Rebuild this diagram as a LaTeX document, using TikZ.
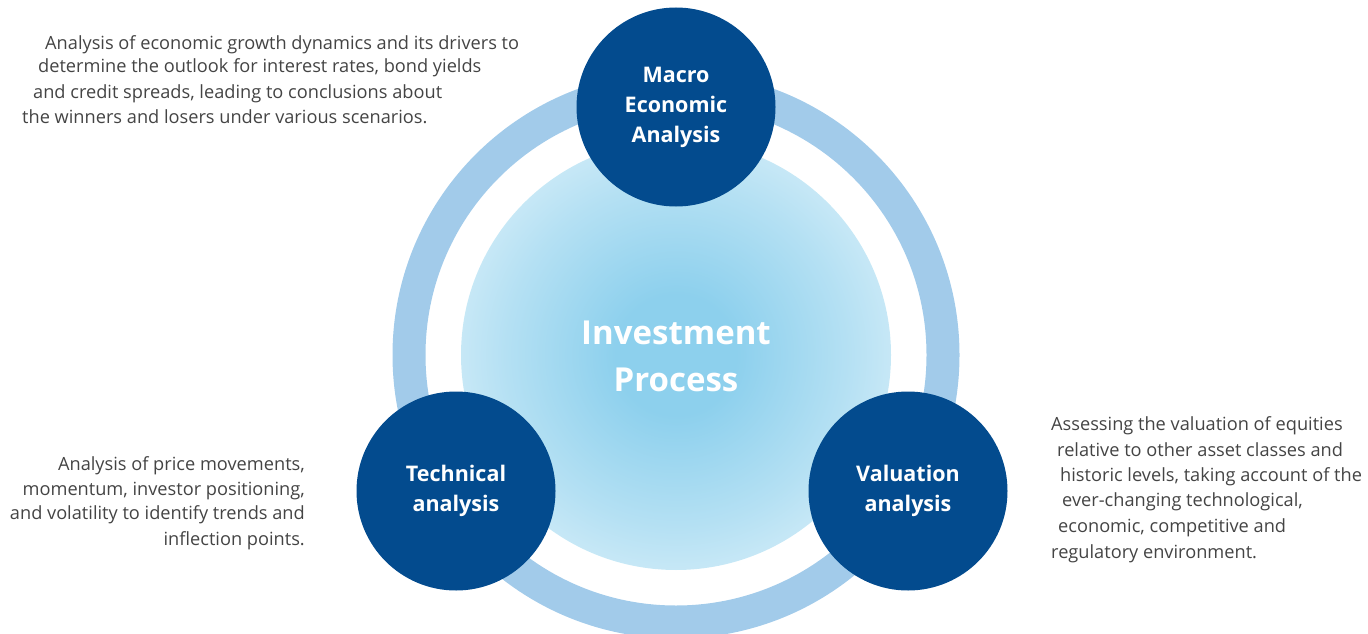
\documentclass[tikz,border=0pt]{standalone}
\usepackage{fontspec}
\setmainfont{Open Sans}
\definecolor{navy}{HTML}{034B8E}
\definecolor{ringblue}{HTML}{A2CBEA}
\definecolor{glowblue}{HTML}{8DD0ED}
\definecolor{bodygray}{HTML}{444444}
% soft glow behind the centre title
\pgfdeclareradialshading{glow}{\pgfpoint{0bp}{0bp}}{%
  color(0bp)=(glowblue);
  color(7bp)=(glowblue);
  color(20bp)=(glowblue!65!white);
  color(32bp)=(glowblue!28!white);
  color(42bp)=(glowblue!9!white);
  color(49.5bp)=(glowblue!3!white);
  color(50bp)=(white);
  color(100bp)=(white)}
\begin{document}
\begin{tikzpicture}[x=1pt,y=-1pt,
  stage/.style={circle, fill=navy, minimum size=199pt, inner sep=0pt,
    text=white, font=\fontsize{21.5}{30}\selectfont\bfseries, align=center},
  title/.style={text=white, font=\fontsize{33}{47}\selectfont\bfseries, align=center},
  note/.style={text=bodygray, font=\fontsize{18.2}{22}\selectfont, inner sep=0pt}]
\useasboundingbox (0,0) rectangle (1368,634);

% outer ring and inner glow
\draw[ringblue, line width=33pt] (676,355) circle[radius=267pt];
\shade[shading=glow] (676,355) circle[radius=215pt];

% centre title
\node[title] (core) at (676,356) {Investment\\Process};

% the three stages
\node[stage] (macro) at (676,107) {Macro\\Economic\\Analysis};
\node[stage] (tech) at (456,491) {Technical\\analysis};
\node[stage] (valu) at (908,491) {Valuation\\analysis};

% macro description
\node[note, anchor=base west] (m1) at (45,49) {Analysis of economic growth dynamics and its drivers to};
\node[note, anchor=base west] (m2) at (38,73) {determine the outlook for interest rates, bond yields};
\node[note, anchor=base west] (m3) at (33,98) {and credit spreads, leading to conclusions about};
\node[note, anchor=base west] (m4) at (22,123) {the winners and losers under various scenarios.};

% technical description
\node[note, anchor=base east] (t1) at (305,470) {Analysis of price movements,};
\node[note, anchor=base east] (t2) at (305,495) {momentum, investor positioning,};
\node[note, anchor=base east] (t3) at (305,519) {and volatility to identify trends and};
\node[note, anchor=base east] (t4) at (305,545) {inflection points.};

% valuation description
\node[note, anchor=base west] (v1) at (1051,430) {Assessing the valuation of equities};
\node[note, anchor=base west] (v2) at (1057,456) {relative to other asset classes and};
\node[note, anchor=base west] (v3) at (1060,481) {historic levels, taking account of the};
\node[note, anchor=base west] (v4) at (1062,506) {ever-changing technological,};
\node[note, anchor=base west] (v5) at (1058,532) {economic, competitive and};
\node[note, anchor=base west] (v6) at (1051,558) {regulatory environment.};
\end{tikzpicture}
\end{document}
